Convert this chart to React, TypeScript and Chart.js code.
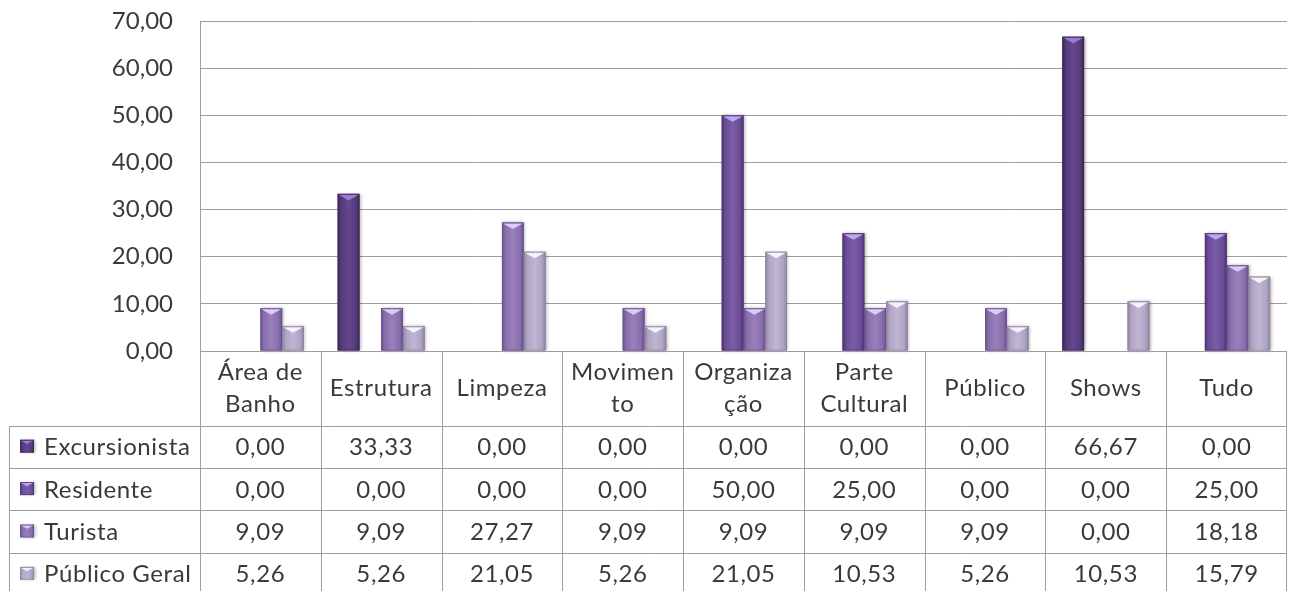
import React, { useEffect, useRef } from "react";
import { Chart, registerables } from "chart.js";

Chart.register(...registerables);

// ---------- data ----------
const categories: (string | string[])[] = [
  ["Área de", "Banho"],
  "Estrutura",
  "Limpeza",
  ["Movimen", "to"],
  ["Organiza", "ção"],
  ["Parte", "Cultural"],
  "Público",
  "Shows",
  "Tudo",
];
const seriesNames = ["Excursionista", "Residente", "Turista", "Público Geral"];
const excursionista = [0, 33.33, 0, 0, 0, 0, 0, 66.67, 0];
const residente = [0, 0, 0, 0, 50, 25, 0, 0, 25];
const turista = [9.09, 9.09, 27.27, 9.09, 9.09, 9.09, 9.09, 0, 18.18];
const publicoGeral = [5.26, 5.26, 21.05, 5.26, 21.05, 10.53, 5.26, 10.53, 15.79];
const yMin = 0;
const yMax = 70;
const yStep = 10;

// ---------- styles ----------
const FONT = "Lato";
const FONT_SIZE = 24;
const TEXT = "#3a3a3a";
const LINE = "#9d9d9d";

type Pal = { base: string; edge: string; light: string; tri: string };
const palettes: Pal[] = [
  { base: "#573b7b", edge: "#3d2858", light: "#654690", tri: "#9a7dcc" },
  { base: "#6c4d96", edge: "#4f3574", light: "#7b5ca8", tri: "#c0a6ee" },
  { base: "#8a6fad", edge: "#6b5290", light: "#9980bb", tri: "#dccaf8" },
  { base: "#b1a5c4", edge: "#8f83a4", light: "#c0b5d2", tri: "#f6f2fc" },
];

const seriesData = [excursionista, residente, turista, publicoGeral];

const fmt = (v: number) => v.toFixed(2).replace(".", ",");

function drawBevelBar(ctx: CanvasRenderingContext2D, left: number, top: number, w: number, h: number, pal: Pal) {
  if (h <= 0 || w <= 0) return;
  ctx.save();
  ctx.shadowColor = "rgba(0,0,0,0.28)";
  ctx.shadowBlur = 3;
  ctx.shadowOffsetX = 1.5;
  ctx.shadowOffsetY = 0;
  const g = ctx.createLinearGradient(left, 0, left + w, 0);
  g.addColorStop(0, pal.edge);
  g.addColorStop(0.18, pal.base);
  g.addColorStop(0.5, pal.light);
  g.addColorStop(0.82, pal.base);
  g.addColorStop(1, pal.edge);
  ctx.fillStyle = g;
  ctx.fillRect(left, top, w, h);
  ctx.restore();
  ctx.save();
  const th = Math.min(w * 0.3, h - 1);
  ctx.beginPath();
  ctx.moveTo(left + 1, top + 1);
  ctx.lineTo(left + w - 1, top + 1);
  ctx.lineTo(left + w / 2, top + th);
  ctx.closePath();
  ctx.fillStyle = pal.tri;
  ctx.fill();
  ctx.strokeStyle = pal.edge;
  ctx.globalAlpha = 0.6;
  ctx.lineWidth = 1;
  ctx.strokeRect(left + 0.5, top + 0.5, w - 1, h - 1);
  ctx.restore();
}

const bevelPlugin = {
  id: "bevelBars",
  afterDatasetsDraw(chart: any) {
    const ctx: CanvasRenderingContext2D = chart.ctx;
    chart.data.datasets.forEach((ds: any, di: number) => {
      const meta = chart.getDatasetMeta(di);
      meta.data.forEach((el: any, i: number) => {
        const v = ds.data[i];
        if (!v) return;
        const p = el.getProps(["x", "y", "base", "width"], true);
        drawBevelBar(ctx, p.x - p.width / 2, p.y, p.width, p.base - p.y, palettes[di]);
      });
    });
  },
};

const tablePlugin = {
  id: "dataTable",
  afterDraw(chart: any) {
    const ctx: CanvasRenderingContext2D = chart.ctx;
    const { left, right, bottom } = chart.chartArea;
    const xs = chart.scales.x;
    const n = categories.length;
    const cw = (right - left) / n;
    const headerH = 74.5;
    const rowH = 42.4;
    const headerBottom = bottom + headerH;
    const tableBottom = chart.height;
    const tableLeft = 9.5;

    ctx.save();
    ctx.strokeStyle = LINE;
    ctx.lineWidth = 1;
    ctx.beginPath();
    ctx.moveTo(left, Math.round(bottom) + 0.5);
    ctx.lineTo(right, Math.round(bottom) + 0.5);
    for (let r = 0; r < seriesNames.length; r++) {
      const y = Math.round(headerBottom + r * rowH) + 0.5;
      ctx.moveTo(tableLeft, y);
      ctx.lineTo(right, y);
    }
    for (let k = 0; k <= n; k++) {
      const x = Math.round(left + k * cw) + 0.5 - (k === n ? 1 : 0);
      ctx.moveTo(x, bottom);
      ctx.lineTo(x, tableBottom);
    }
    ctx.moveTo(tableLeft, Math.round(headerBottom) + 0.5);
    ctx.lineTo(tableLeft, tableBottom);
    ctx.stroke();

    ctx.font = `${FONT_SIZE}px ${FONT}`;
    (ctx as any).letterSpacing = "0.6px";
    ctx.fillStyle = TEXT;
    ctx.textBaseline = "alphabetic";
    ctx.textAlign = "center";
    categories.forEach((c, i) => {
      const cx = xs.getPixelForValue(i);
      if (Array.isArray(c)) {
        ctx.fillText(c[0], cx, bottom + 29);
        ctx.fillText(c[1], cx, bottom + 61);
      } else {
        ctx.fillText(c, cx, bottom + 45);
      }
    });
    seriesData.forEach((arr, r) => {
      const cy = headerBottom + r * rowH + rowH / 2 + 8.5;
      arr.forEach((v, i) => {
        ctx.fillText(fmt(v), xs.getPixelForValue(i), cy);
      });
    });
    ctx.textAlign = "left";
    seriesNames.forEach((name, r) => {
      const rc = headerBottom + r * rowH + rowH / 2;
      drawBevelBar(ctx, 20, rc - 7, 14, 13, palettes[r]);
      ctx.fillStyle = TEXT;
      ctx.fillText(name, 44, rc + 8.5);
    });
    ctx.restore();
  },
};

export default function App() {
  const ref = useRef<HTMLCanvasElement | null>(null);
  useEffect(() => {
    if (!ref.current) return;
    const chart = new Chart(ref.current, {
      type: "bar",
      data: {
        labels: categories.map((c) => (Array.isArray(c) ? c.join(" ") : c)),
        datasets: seriesNames.map((name, i) => ({
          label: name,
          data: seriesData[i],
          backgroundColor: palettes[i].base,
          borderWidth: 0,
          categoryPercentage: 0.72,
          barPercentage: 1,
        })),
      },
      options: {
        responsive: false,
        animation: false,
        devicePixelRatio: 1,
        layout: { padding: { left: 0, right: 4, top: 21, bottom: 240 } },
        plugins: { legend: { display: false }, tooltip: { enabled: false } },
        scales: {
          x: { display: false, offset: true },
          y: {
            min: yMin,
            max: yMax,
            ticks: {
              stepSize: yStep,
              callback: (v: any) => fmt(Number(v)),
              font: { family: FONT, size: FONT_SIZE },
              color: TEXT,
              padding: 27,
            },
            grid: { color: LINE, drawTicks: false, lineWidth: 1 },
            border: { color: LINE, width: 1 },
            afterFit: (scale: any) => {
              scale.width = 200;
              scale.paddingTop = 0;
              scale.paddingBottom = 0;
            },
          },
        },
      },
      plugins: [bevelPlugin, tablePlugin],
    });
    return () => chart.destroy();
  }, []);
  return (
    <div style={{ position: "fixed", left: 0, top: 0, width: 1291, height: 591, background: "#fff" }}>
      <canvas ref={ref} width={1291} height={591} style={{ display: "block" }} />
    </div>
  );
}
